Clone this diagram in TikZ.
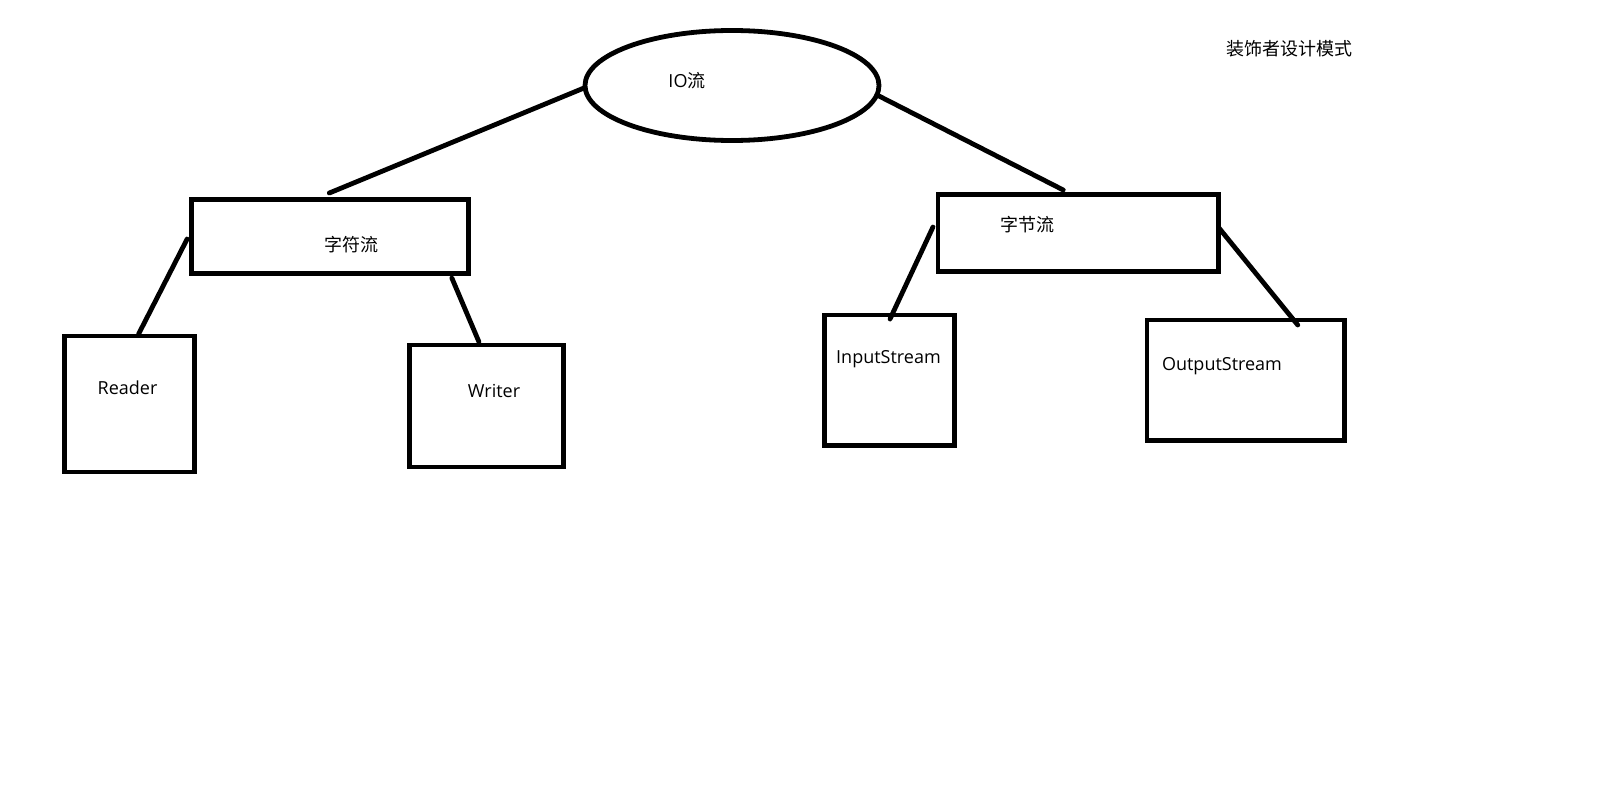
\documentclass[tikz,border=0pt]{standalone}
\usepackage{fontspec}
\setmainfont{Open Sans}
\newfontfamily\cjk{Noto Sans CJK SC}
\usetikzlibrary{calc,shapes.geometric}
\begin{document}
\begin{tikzpicture}[x=1pt,y=-1pt,
  box/.style={draw=black, rectangle, line width=4.8pt, inner sep=0pt, outer sep=0pt},
  oval/.style={draw=black, ellipse, line width=4.8pt, inner sep=0pt, outer sep=0pt},
  lbl/.style={anchor=base, inner sep=0pt, outer sep=0pt, font=\fontsize{18}{20}\selectfont},
  link/.style={draw=black, line width=4.8pt, line cap=round}]
\fill[white] (0,0) rectangle (1621,797);
\useasboundingbox (0,0) rectangle (1621,797);

% shapes
\node[oval, minimum width=294pt, minimum height=110pt] (io) at (732,85.5) {};
\node[box, minimum width=277pt, minimum height=74pt] (zifu) at (330.35,236.5) {};
\node[box, minimum width=280.5pt, minimum height=77pt] (zijie) at (1078.25,233) {};
\node[box, minimum width=130pt, minimum height=136pt] (reader) at (129.6,404) {};
\node[box, minimum width=154pt, minimum height=122pt] (writer) at (486.5,406) {};
\node[box, minimum width=129.6pt, minimum height=130.7pt] (input) at (889.5,380.4) {};
\node[box, minimum width=197.5pt, minimum height=120.5pt] (output) at (1245.75,380.25) {};

% texts
\node[lbl] (tio) at (687,87.5) {IO{\cjk 流}};
\node[lbl] (title) at (1289,56) {\cjk 装饰者设计模式};
\node[lbl] (tzifu) at (351,251) {\cjk 字符流};
\node[lbl] (tzijie) at (1027,231) {\cjk 字节流};
\node[lbl] (treader) at (127.5,394) {Reader};
\node[lbl] (twriter) at (494,397) {Writer};
\node[lbl] (tinput) at (888.5,363.5) {InputStream};
\node[lbl] (toutput) at (1222,370) {OutputStream};

% connectors
\draw[link] ($(io.center)+(-148,2.5)$) -- ($(zifu.north)+(-1,-6.5)$);
\draw[link] ($(io.center)+(145,9.5)$) -- ($(zijie.north)+(-15,-4.5)$);
\draw[link] ($(zifu.west)+(-4.7,2.5)$) -- ($(reader.north)+(9,-2)$);
\draw[link] ($(zifu.south east)+(-17,4.5)$) -- ($(writer.north)+(-7.5,-3)$);
\draw[link] ($(zijie.west)+(-5,-6)$) -- ($(input.north)+(0.5,4)$);
\draw[link] ($(zijie.east)+(0.5,-5)$) -- ($(output.north)+(52,5)$);
\end{tikzpicture}
\end{document}
